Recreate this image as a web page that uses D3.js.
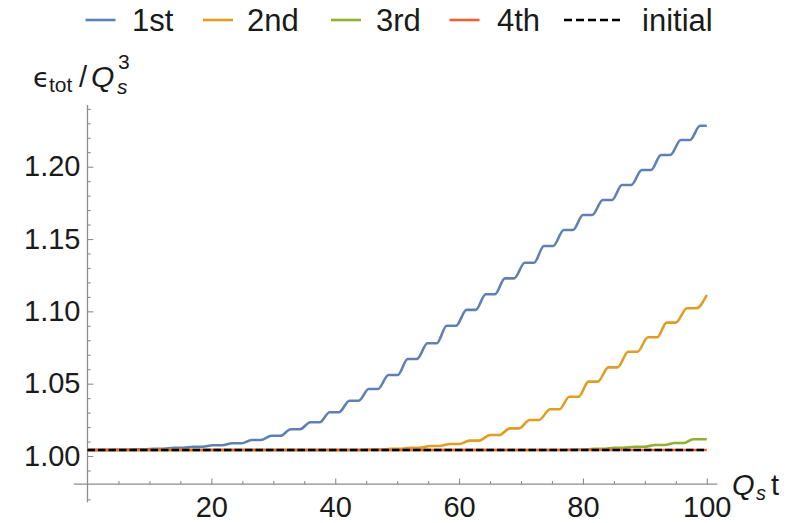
<!DOCTYPE html>
<html>
<head>
<meta charset="utf-8">
<script src="https://cdn.jsdelivr.net/npm/d3@7"></script>
<style>
  html, body { margin: 0; padding: 0; background: #fff; }
  svg { display: block; font-family: "Liberation Sans", Arial, sans-serif; }
</style>
</head>
<body>
<svg id="chart" width="789" height="523"></svg>
<script>
// Energy density per mode, sampled as plateaus [t start, t end, level]
const firstLevels = [
  [0, 3.0, 1.0041], [4.5, 6.0, 1.0043], [7.7, 9.2, 1.0046], [10.8, 12.3, 1.0050],
  [14.0, 15.5, 1.0057], [17.1, 18.6, 1.0064], [20.2, 21.7, 1.0074], [23.4, 24.9, 1.0088],
  [26.5, 28.0, 1.0111], [29.7, 31.2, 1.0140], [32.8, 34.3, 1.0185], [36.0, 37.5, 1.0233],
  [39.1, 40.6, 1.0302], [42.3, 43.8, 1.0382], [45.4, 46.9, 1.0463], [48.6, 50.1, 1.0560],
  [51.7, 53.2, 1.0671], [54.9, 56.4, 1.0779], [58.0, 59.5, 1.0900], [61.2, 62.7, 1.1010],
  [64.3, 65.8, 1.1118], [67.4, 68.9, 1.1228], [70.6, 72.1, 1.1336], [73.7, 75.2, 1.1452],
  [76.9, 78.4, 1.1562], [80.0, 81.5, 1.1666], [83.2, 84.7, 1.1770], [86.3, 87.8, 1.1873],
  [89.5, 91.0, 1.1977], [92.6, 94.1, 1.2081], [95.8, 97.3, 1.2185], [98.9, 100, 1.2283]
];
const secondLevels = [
  [0, 41.0, 1.0041], [42.6, 44.1, 1.0042], [45.8, 47.3, 1.0044], [49.0, 50.5, 1.0049],
  [52.1, 53.6, 1.0057], [55.3, 56.8, 1.0069], [58.5, 60.0, 1.0083], [61.7, 63.2, 1.0106],
  [65.0, 66.5, 1.0145], [68.2, 69.7, 1.0191], [71.4, 72.9, 1.0249], [74.7, 76.2, 1.0323],
  [77.8, 79.3, 1.0410], [80.9, 82.4, 1.0514], [84.1, 85.6, 1.0613], [87.3, 88.8, 1.0721],
  [90.5, 92.0, 1.0821], [93.5, 95.0, 1.0922], [96.8, 98.3, 1.1021], [100, 100, 1.1113]
];
const thirdLevels = [
  [0, 73.5, 1.0041], [75.5, 77.0, 1.0042], [78.6, 80.1, 1.0044], [81.8, 83.3, 1.0049],
  [85.0, 86.5, 1.0057], [88.4, 89.9, 1.0064], [91.7, 93.2, 1.0076], [94.8, 96.3, 1.0090],
  [97.8, 100, 1.0116]
];
const fourthLevels = [[0, 100, 1.0041]];
const initialLevels = [[0, 100, 1.0041]];

const seriesNames = ["1st", "2nd", "3rd", "4th"];
const seriesColors = ["#5E81B5", "#E19C24", "#8FB032", "#EB6235"];

const xMajorTicks = [20, 40, 60, 80, 100];
const xMinorTicks = [5, 10, 15, 25, 30, 35, 45, 50, 55, 65, 70, 75, 85, 90, 95];
const yMajorTicks = [1.00, 1.05, 1.10, 1.15, 1.20];
const yMinorTicks = [0.97, 0.99, 1.01, 1.02, 1.03, 1.04, 1.06, 1.07, 1.08, 1.09,
                     1.11, 1.12, 1.13, 1.14, 1.16, 1.17, 1.18, 1.19, 1.21, 1.22, 1.23, 1.24];

const svg = d3.select("#chart");
const x = d3.scaleLinear().domain([0, 100]).range([87.5, 706.8]);
const y = d3.scaleLinear().domain([1.00, 1.20]).range([456, 166.7]);

const axisColor = "#8c8c8c";
const xAxisAt = 0.9805;

// axis lines
svg.append("line")
  .attr("x1", x(-2.2)).attr("x2", x(101.7))
  .attr("y1", y(xAxisAt)).attr("y2", y(xAxisAt))
  .attr("stroke", axisColor).attr("stroke-width", 1.3);
svg.append("line")
  .attr("x1", x(0)).attr("x2", x(0))
  .attr("y1", y(0.968)).attr("y2", y(1.2427))
  .attr("stroke", axisColor).attr("stroke-width", 1.3);

function styleAxis(g) {
  g.select(".domain").remove();
  g.selectAll(".tick line").attr("stroke", axisColor).attr("stroke-width", 1.1);
  g.selectAll(".tick text").attr("fill", "#1a1a1a").attr("font-size", 29)
    .attr("font-family", "'Liberation Sans', Arial, sans-serif");
}

// x axis
svg.append("g").attr("transform", `translate(0,${y(xAxisAt)})`)
  .call(d3.axisBottom(x).tickValues(xMinorTicks).tickSizeInner(-3.2).tickSizeOuter(0).tickFormat(""))
  .call(styleAxis);
svg.append("g").attr("transform", `translate(0,${y(xAxisAt)})`)
  .call(d3.axisBottom(x).tickValues(xMajorTicks).tickSizeInner(-5.8).tickSizeOuter(0)
    .tickPadding(12).tickFormat(d3.format("d")))
  .call(styleAxis);

// y axis
svg.append("g").attr("transform", `translate(${x(0)},0)`)
  .call(d3.axisLeft(y).tickValues(yMinorTicks).tickSizeInner(-3.2).tickSizeOuter(0).tickFormat(""))
  .call(styleAxis);
svg.append("g").attr("transform", `translate(${x(0)},0)`)
  .call(d3.axisLeft(y).tickValues(yMajorTicks).tickSizeInner(-5.8).tickSizeOuter(0)
    .tickPadding(7).tickFormat(d3.format(".2f")))
  .call(styleAxis);

// curves: monotone interpolation keeps the plateaus level between rises
const line = d3.line().x(d => x(d[0])).y(d => y(d[1])).curve(d3.curveMonotoneX);
function toPoints(levels) {
  const pts = [];
  levels.forEach(([s, e, v]) => {
    pts.push([s, v]);
    if (e > s) pts.push([e, v]);
  });
  return pts;
}
const plotG = svg.append("g");
[firstLevels, secondLevels, thirdLevels, fourthLevels].forEach((lv, i) => {
  plotG.append("path")
    .attr("d", line(toPoints(lv)))
    .attr("fill", "none")
    .attr("stroke", seriesColors[i])
    .attr("stroke-width", 2.6)
    .attr("stroke-linejoin", "round");
});
plotG.append("path")
  .attr("d", line(toPoints(initialLevels)))
  .attr("fill", "none")
  .attr("stroke", "#000")
  .attr("stroke-width", 2.6)
  .attr("stroke-dasharray", "7.5,3");

// axis labels
const lab = svg.append("g").attr("fill", "#1a1a1a");
lab.append("text").attr("x", 33).attr("y", 87).attr("font-size", 27)
  .attr("font-family", "'DejaVu Sans', sans-serif").text("ϵ");
lab.append("text").attr("x", 49).attr("y", 92).attr("font-size", 21).text("tot");
lab.append("text").attr("x", 79).attr("y", 87).attr("font-size", 29).text("/");
lab.append("text").attr("x", 91).attr("y", 87).attr("font-size", 30).attr("font-style", "italic").text("Q");
lab.append("text").attr("x", 117).attr("y", 94).attr("font-size", 21).attr("font-style", "italic").text("s");
lab.append("text").attr("x", 118).attr("y", 69).attr("font-size", 21).text("3");

lab.append("text").attr("x", 732).attr("y", 495).attr("font-size", 29).attr("font-style", "italic").text("Q");
lab.append("text").attr("x", 756).attr("y", 500).attr("font-size", 20).attr("font-style", "italic").text("s");
lab.append("text").attr("x", 771).attr("y", 495).attr("font-size", 29).text("t");

// legend: swatch start, swatch length and text start for each entry
const legendItems = seriesNames.map((n, i) => ({ name: n, color: seriesColors[i], dash: null }))
  .concat([{ name: "initial", color: "#000", dash: "8,4" }]);
const legendSwatchX = [85.5, 203, 331, 449.5, 564];
const legendSwatchLen = [30, 30, 30, 30, 60];
const legendTextX = [132, 247, 376, 497, 642];
const legend = svg.append("g");
const ly = 20;
legendItems.forEach((it, i) => {
  legend.append("line")
    .attr("x1", legendSwatchX[i]).attr("x2", legendSwatchX[i] + legendSwatchLen[i])
    .attr("y1", ly).attr("y2", ly)
    .attr("stroke", it.color).attr("stroke-width", 2.6)
    .attr("stroke-dasharray", it.dash);
  legend.append("text")
    .attr("x", legendTextX[i]).attr("y", ly + 11)
    .attr("font-size", 31).attr("fill", "#1a1a1a").text(it.name);
});
</script>
</body>
</html>
